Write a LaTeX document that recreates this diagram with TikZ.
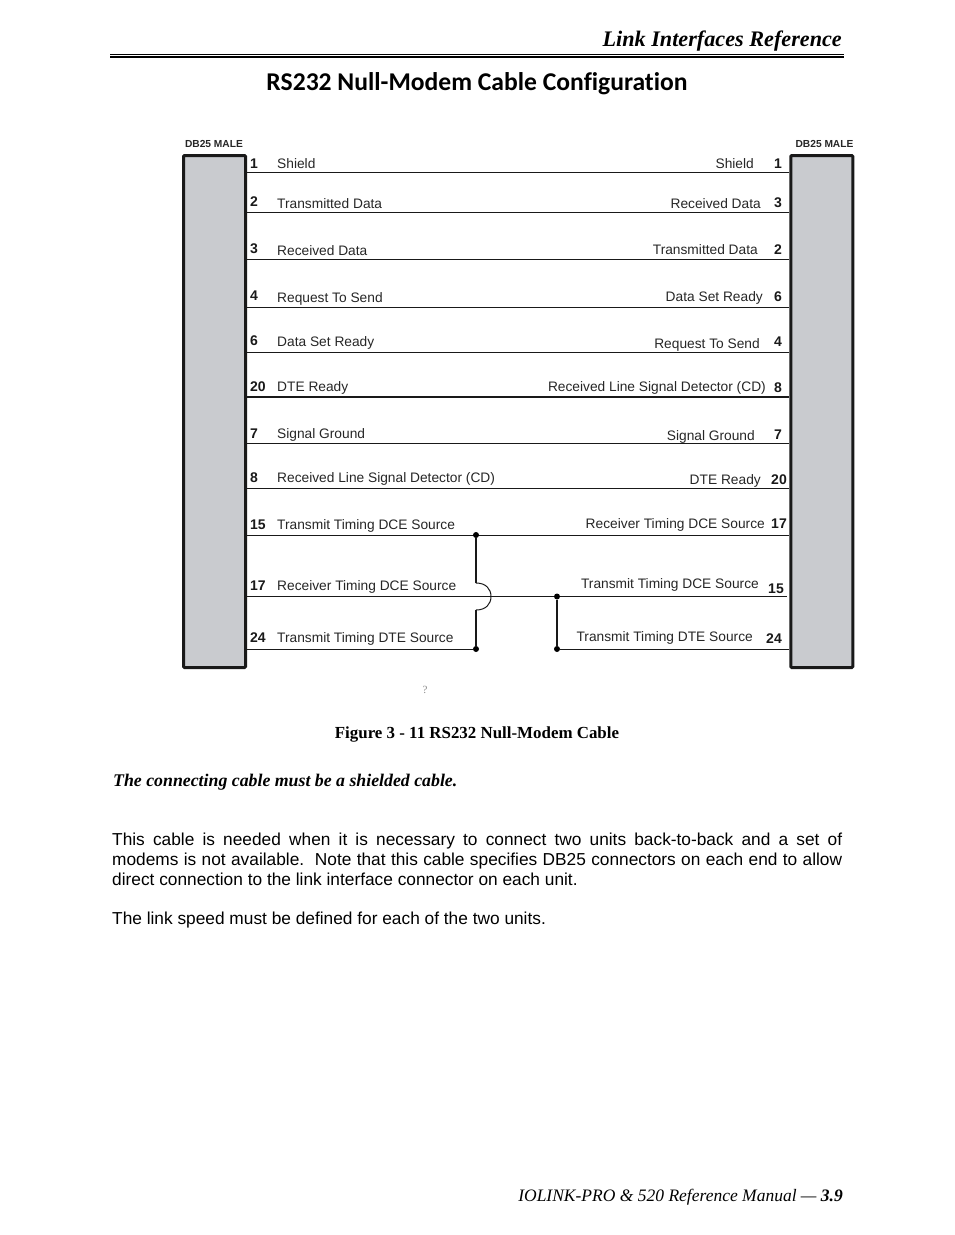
\documentclass[tikz,border=0pt]{standalone}
\usepackage{fontspec}
\setmainfont{Liberation Serif}
\setsansfont{Liberation Sans}
\newfontfamily\titlefont[Ligatures=NoCommon]{Carlito}
\usetikzlibrary{positioning}
\definecolor{connfill}{RGB}{201,203,207}
\tikzstyle{wire} = [draw, line width=1pt, black!90]
\tikzstyle{conn} = [rectangle, draw=black!90, fill=connfill, line width=3pt,
  rounded corners=1pt, minimum width=62pt, minimum height=512pt, inner sep=0pt]
\tikzstyle{lbl} = [font=\sffamily\fontsize{13.75}{15}\selectfont, black!85, inner sep=0pt]
\tikzstyle{pin} = [font=\sffamily\bfseries\fontsize{14}{15}\selectfont, black!90, inner sep=0pt]
\tikzstyle{dbname} = [font=\sffamily\bfseries\fontsize{10.2}{12}\selectfont, black!85, inner sep=0pt]
\tikzstyle{junction} = [circle, fill=black, minimum size=6pt, inner sep=0pt]

\begin{document}
\begin{tikzpicture}[x=1pt, y=-1pt]
    \useasboundingbox (0,0) rectangle (954,1235);

    % page head
    \node [anchor=base east, inner sep=0pt, font=\bfseries\itshape\fontsize{22.2}{24}\selectfont] (head) at (842,46) {Link Interfaces Reference};
    \coordinate (ruleL) at (110,54.5);
    \coordinate (ruleR) at (844,54.5);
    \coordinate (ruleLL) at (110,57);
    \coordinate (ruleRR) at (844,57);
    \draw [line width=0.8pt] (ruleL) -- (ruleR);
    \draw [line width=2pt] (ruleLL) -- (ruleRR);
    \node [anchor=base, inner sep=0pt, font=\titlefont\bfseries\fontsize{25.6}{28}\selectfont] (title) at (477,90) {RS232 Null-Modem Cable Configuration};

    % connectors
    \node [conn] (connL) at (214.5,411.5) {};
    \node [conn] (connR) at (821.8,411.5) {};
    \node [dbname, anchor=base] (dbL) at (214,147) {DB25 MALE};
    \node [dbname, anchor=base] (dbR) at (824.5,147) {DB25 MALE};

    % wires
    \foreach \name/\ypos/\xend in {a/172/789, b/212/789, c/259/789, d/307/789, e/352/789,
        f/397/789, g/443/789, h/488/789, i/535/789, j/596.5/787, k/649/789} {
      \coordinate (\name L) at (247,\ypos);
      \coordinate (\name R) at (\xend,\ypos);
    }
    \path [wire] (aL) -- (aR);
    \path [wire] (bL) -- (bR);
    \path [wire] (cL) -- (cR);
    \path [wire] (dL) -- (dR);
    \path [wire] (eL) -- (eR);
    \path [wire, line width=1.4pt] (fL) -- (fR);
    \path [wire] (gL) -- (gR);
    \path [wire] (hL) -- (hR);
    \path [wire] (iL) -- (iR);
    \path [wire] (jL) -- (jR);

    % left side
    \node [pin, anchor=base west] (pa) at (250,168) {1};
    \node [pin, anchor=base west] (pb) at (250,206) {2};
    \node [pin, anchor=base west] (pc) at (250,253) {3};
    \node [pin, anchor=base west] (pd) at (250,300) {4};
    \node [pin, anchor=base west] (pe) at (250,345) {6};
    \node [pin, anchor=base west] (pf) at (250,391) {20};
    \node [pin, anchor=base west] (pg) at (250,438) {7};
    \node [pin, anchor=base west] (ph) at (250,482) {8};
    \node [pin, anchor=base west] (pi) at (250,529) {15};
    \node [pin, anchor=base west] (pj) at (250,590) {17};
    \node [pin, anchor=base west] (pk) at (250,642) {24};

    \node [lbl, anchor=base west] (la) at (277,168) {Shield};
    \node [lbl, anchor=base west] (lb) at (277,208) {Transmitted Data};
    \node [lbl, anchor=base west] (lc) at (277,255) {Received Data};
    \node [lbl, anchor=base west] (ld) at (277,302) {Request To Send};
    \node [lbl, anchor=base west] (le) at (277,346) {Data Set Ready};
    \node [lbl, anchor=base west] (lf) at (277,391) {DTE Ready};
    \node [lbl, anchor=base west] (lg) at (277,438) {Signal Ground};
    \node [lbl, anchor=base west] (lh) at (277,482) {Received Line Signal Detector (CD)};
    \node [lbl, anchor=base west] (li) at (277,529) {Transmit Timing DCE Source};
    \node [lbl, anchor=base west] (lj) at (277,590) {Receiver Timing DCE Source};
    \node [lbl, anchor=base west] (lk) at (277,642) {Transmit Timing DTE Source};

    % right side
    \node [pin, anchor=base east] (qa) at (782,168) {1};
    \node [pin, anchor=base east] (qb) at (782,207) {3};
    \node [pin, anchor=base east] (qc) at (782,254) {2};
    \node [pin, anchor=base east] (qd) at (782,301) {6};
    \node [pin, anchor=base east] (qe) at (782,346) {4};
    \node [pin, anchor=base east] (qf) at (782,392) {8};
    \node [pin, anchor=base east] (qg) at (782,439) {7};
    \node [pin, anchor=base east] (qh) at (787,484) {20};
    \node [pin, anchor=base east] (qi) at (787,528) {17};
    \node [pin, anchor=base east] (qj) at (784,593) {15};
    \node [pin, anchor=base east] (qk) at (782,643) {24};

    \node [lbl, anchor=base east] (ra) at (754,168) {Shield};
    \node [lbl, anchor=base east] (rb) at (761,208) {Received Data};
    \node [lbl, anchor=base east] (rc) at (758,254) {Transmitted Data};
    \node [lbl, anchor=base east] (rd) at (763,301) {Data Set Ready};
    \node [lbl, anchor=base east] (re) at (760,348) {Request To Send};
    \node [lbl, anchor=base east] (rf) at (766,391) {Received Line Signal Detector (CD)};
    \node [lbl, anchor=base east] (rg) at (755,440) {Signal Ground};
    \node [lbl, anchor=base east] (rh) at (761,484) {DTE Ready};
    \node [lbl, anchor=base east] (ri) at (765,528) {Receiver Timing DCE Source};
    \node [lbl, anchor=base east] (rj) at (759,588) {Transmit Timing DCE Source};
    \node [lbl, anchor=base east] (rk) at (753,641) {Transmit Timing DTE Source};

    % cross connections
    \node [junction] (dotA) at (476,535) {};
    \node [junction] (dotB) at (476,649) {};
    \node [junction] (dotC) at (557,596.5) {};
    \node [junction] (dotD) at (557,649) {};
    \coordinate (hopTop) at (476,583);
    \coordinate (hopMid) at (491,596.5);
    \coordinate (hopEnd) at (476,610);
    \path [wire] (kL) -- (dotB);
    \path [wire] (dotD) -- (kR);
    \path [wire, line width=1.3pt] (dotA) -- (hopTop);
    \path [wire] (hopTop) .. controls (486,583) and (491,589) .. (hopMid)
      .. controls (491,604) and (486,610) .. (hopEnd);
    \path [wire, line width=1.3pt] (hopEnd) -- (dotB);
    \path [wire, line width=1.3pt] (dotC) -- (dotD);

    \node [font=\fontsize{11}{12}\selectfont, black!45, inner sep=0pt] (mark) at (425,690) {?};

    % text below
    \node [anchor=base, inner sep=0pt, font=\bfseries\fontsize{16.9}{18}\selectfont] (caption) at (477,738) {Figure 3 - 11 RS232 Null-Modem Cable};
    \node [anchor=base west, inner sep=0pt, font=\bfseries\itshape\fontsize{17.8}{20}\selectfont] (note) at (113,786) {The connecting cable must be a shielded cable.};
    \node [anchor=north west, inner sep=0pt, text width=730pt, align=justify, font=\fontsize{17.3}{20}\selectfont\sffamily] (para) at (112,833) {This cable is needed when it is necessary to connect two units back-to-back and a set of\linebreak modems is not available.\ \ Note that this cable specifies DB25 connectors on each end to allow\linebreak direct connection to the link interface connector on each unit.};
    \node [anchor=base west, inner sep=0pt, font=\fontsize{17.3}{20}\selectfont\sffamily] (speed) at (112,924) {The link speed must be defined for each of the two units.};
    \node [anchor=base east, inner sep=0pt, font=\itshape\fontsize{17.5}{20}\selectfont] (foot) at (843,1201) {IOLINK-PRO \& 520 Reference Manual --- \textbf{3.9}};
\end{tikzpicture}
\end{document}
